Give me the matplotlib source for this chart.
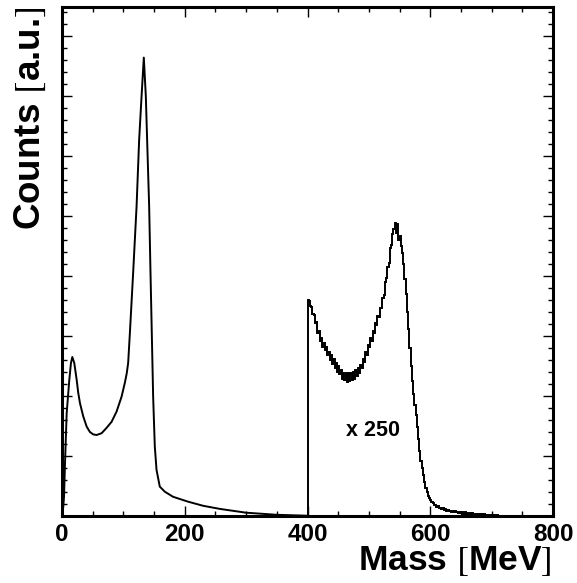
import matplotlib
matplotlib.use("Agg")
import matplotlib.pyplot as plt
from matplotlib.ticker import MultipleLocator

plt.rcParams['font.family'] = ['Liberation Sans', 'DejaVu Sans']
plt.rcParams['mathtext.fontset'] = 'stix'

# Low-mass part (as measured): mass [MeV], counts [a.u.]
mass_low = [0, 2, 3.3, 4.9, 7.6, 11.9, 14.6, 16.8, 20, 23.9, 26.5, 29.3, 34.6, 40.2,
            45.5, 50.9, 56.4, 64.6, 72.7, 80.8, 88.9, 97.1, 102.4, 105.5, 107.8, 110.6,
            115.9, 121.5, 125.7, 129.6, 133.3, 136.6, 138.7, 142, 144.2, 146.3,
            148.5, 151.2, 154, 159.3, 167.5, 181, 205, 230, 258, 300, 350, 399]
counts_low = [0, 0.15, 0.32, 0.88, 1.71, 2.27, 2.55, 2.65, 2.55, 2.27, 2.05, 1.88,
              1.66, 1.49, 1.40, 1.36, 1.35, 1.38, 1.47, 1.57, 1.74, 1.99, 2.22, 2.38,
              2.55, 3.05, 4.05, 5.16, 6.27, 6.99, 7.64, 6.99, 6.27, 5.16, 4.05, 3.05,
              1.99, 1.16, 0.77, 0.49, 0.405, 0.32, 0.24, 0.17, 0.117, 0.055, 0.02, 0.005]

# High-mass part (x 250): histogram, 2 MeV bins from 400 to 720 MeV
high_edges = list(range(400, 722, 2))
counts_high = [
    3.60, 3.58, 3.50, 3.49, 3.36, 3.35, 3.22, 3.24, 3.05, 3.08,
    2.92, 2.97, 2.82, 2.88, 2.76, 2.82, 2.69, 2.74, 2.60, 2.68,
    2.54, 2.62, 2.47, 2.55, 2.40, 2.50, 2.36, 2.43, 2.28, 2.39,
    2.26, 2.38, 2.24, 2.39, 2.25, 2.38, 2.27, 2.40, 2.29, 2.43,
    2.34, 2.46, 2.39, 2.52, 2.46, 2.62, 2.57, 2.73, 2.69, 2.85,
    2.81, 2.97, 2.92, 3.09, 3.05, 3.22, 3.19, 3.34, 3.32, 3.46,
    3.47, 3.64, 3.69, 3.90, 3.97, 4.15, 4.22, 4.46, 4.52, 4.70,
    4.78, 4.88, 4.72, 4.86, 4.60, 4.66, 4.50, 4.38, 4.20, 3.95,
    3.70, 3.40, 3.12, 2.80, 2.50, 2.25, 2.04, 1.85, 1.68, 1.48,
    1.28, 1.08, 0.92, 0.80, 0.68, 0.57, 0.47, 0.40, 0.34, 0.30,
    0.26, 0.23, 0.22, 0.18, 0.18, 0.15, 0.16, 0.13, 0.14, 0.11,
    0.13, 0.10, 0.11, 0.09, 0.10, 0.08, 0.09, 0.07, 0.09, 0.06,
    0.08, 0.06, 0.07, 0.05, 0.07, 0.05, 0.06, 0.04, 0.06, 0.04,
    0.05, 0.04, 0.05, 0.03, 0.05, 0.03, 0.04, 0.03, 0.04, 0.02,
    0.04, 0.02, 0.03, 0.02, 0.03, 0.02, 0.02, 0.01, 0.02, 0.01,
    0.02, 0.01, 0.01, 0.005, 0.01, 0.005, 0.005, 0.0, 0.0, 0.0,
]

x_ticks = [0, 200, 400, 600, 800]
x_tick_labels = ['0', '200', '400', '600', '800']

W, H = 577, 583
fig = plt.figure(figsize=(W / 100, H / 100), dpi=100)
ax = fig.add_axes([62 / W, 1 - 516 / H, 491 / W, 509 / H])

ax.plot(mass_low, counts_low, color='black', lw=1.4)
ax.stairs(counts_high, high_edges, baseline=0, color='black', lw=1.4)

ax.set_xlim(0, 800)
ax.set_ylim(0, 509 / 60)
ax.set_xticks(x_ticks)
ax.set_xticklabels(x_tick_labels, fontsize=17.5, fontweight='bold')
ax.xaxis.set_minor_locator(MultipleLocator(50))
ax.yaxis.set_major_locator(MultipleLocator(1))
ax.yaxis.set_minor_locator(MultipleLocator(0.2))
ax.set_yticklabels([])
ax.tick_params(which='both', direction='in', top=True, right=True, width=1.0)
ax.tick_params(which='major', length=7)
ax.tick_params(which='minor', length=3.5)
ax.tick_params(axis='x', pad=5)
for s in ax.spines.values():
    s.set_linewidth(2.2)

fig.text(552 / W, 1 - 561 / H, r'Mass $[$MeV$]$', fontsize=25.5, fontweight='bold',
         ha='right', va='center')
fig.text(30 / W, 1 - 7 / H, r'Counts $[$a.u.$]$', fontsize=26.5, fontweight='bold',
         rotation=90, ha='center', va='top')
fig.text(373 / W, 1 - 430 / H, 'x 250', fontsize=15.5, fontweight='bold',
         ha='center', va='center')

fig.savefig('out.png', dpi=100)
